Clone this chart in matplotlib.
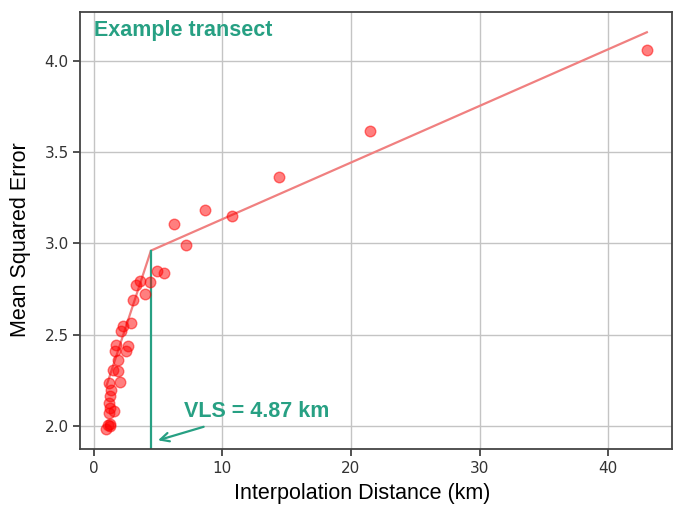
import numpy as np
import matplotlib.pyplot as plt

# interpolation distance (km) vs mean squared error
dist = [0.99, 1.11, 1.30, 1.25, 1.19, 1.56, 1.30, 1.19, 1.24, 1.38, 1.19, 2.02,
        1.89, 1.50, 1.89, 1.63, 2.54, 2.67, 1.71, 2.15, 2.28, 2.93, 3.06, 3.97,
        4.35, 3.32, 3.63, 4.92, 5.44, 7.15, 6.22, 8.63, 10.78, 14.39, 21.5, 43.0]
mse = [1.98, 2.005, 2.00, 2.01, 2.07, 2.078, 2.097, 2.124, 2.161, 2.197, 2.234, 2.237,
       2.298, 2.307, 2.362, 2.407, 2.407, 2.435, 2.444, 2.517, 2.544, 2.563, 2.69, 2.72,
       2.79, 2.773, 2.796, 2.846, 2.837, 2.99, 3.107, 3.18, 3.15, 3.364, 3.616, 4.06]

# piecewise fit (break point + end points)
fit_x = [1.0, 4.45, 43.0]
fit_y = [2.22, 2.96, 4.157]
vls_x = 4.45
vls_label = "VLS = 4.87 km"

teal = '#27a083'

fig = plt.figure(figsize=(6.76, 5.08), dpi=100)
ax = fig.add_axes([0.119, 0.116, 0.875, 0.860])

ax.scatter(dist, mse, s=58, color='red', alpha=0.5, zorder=3)
ax.plot(fit_x, fit_y, color='#f08080', lw=1.6, zorder=2)

ax.set_xlim(-1.03, 44.95)
ax.set_ylim(1.872, 4.267)
ax.axvline(vls_x, ymin=0, ymax=(fit_y[1] - 1.872) / (4.267 - 1.872), color=teal, lw=1.6, zorder=2)

ax.set_xticks([0, 10, 20, 30, 40])
ax.set_yticks([2.0, 2.5, 3.0, 3.5, 4.0])
ax.grid(True, color='#c4c4c4', lw=1)
ax.set_axisbelow(True)

for s in ax.spines.values():
    s.set_color('#444444')
    s.set_linewidth(1.3)
ax.tick_params(labelsize=11, length=5, width=1.2, colors='#333333')

ax.set_xlabel('Interpolation Distance (km)', fontsize=15.5, family='Liberation Sans', labelpad=4)
ax.set_ylabel('Mean Squared Error', fontsize=15.5, family='Liberation Sans', labelpad=5)
ax.xaxis.set_label_coords(0.476, -0.077)
ax.yaxis.set_label_coords(-0.083, 0.48)

ax.text(0, 4.165, 'Example transect', color=teal, fontsize=15.5, fontweight='bold',
        family='Liberation Sans', va='center', ha='left')
ax.annotate(vls_label, xy=(5.0, 1.92), xytext=(7.0, 2.08), color=teal, fontsize=15.5,
            fontweight='bold', family='Liberation Sans', va='center', ha='left',
            arrowprops=dict(arrowstyle='->', color=teal, lw=1.6, shrinkA=6, shrinkB=0))

fig.savefig('out.png', dpi=100)
